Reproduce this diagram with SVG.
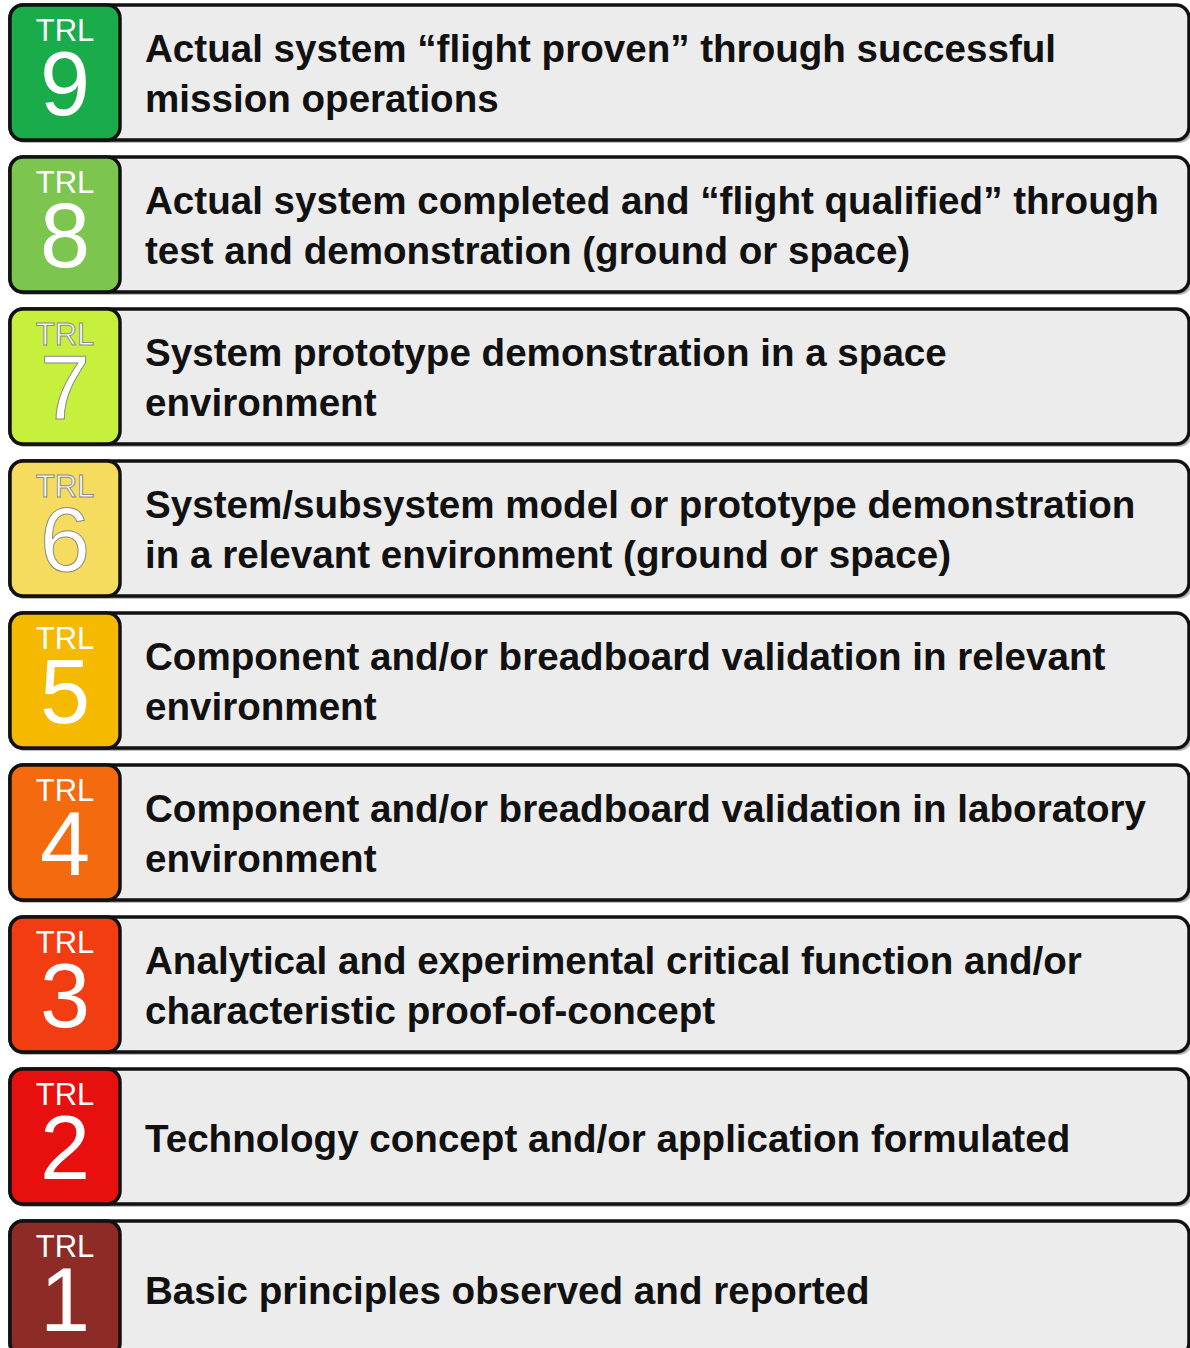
<svg xmlns="http://www.w3.org/2000/svg" width="1190" height="1348" viewBox="0 0 1190 1348">
<style>
.box{fill:#ececec;stroke:#111;stroke-width:3.5}
.shadow{fill:#bbb}
.badge{stroke:#111;stroke-width:3.5}
.lbl{font-family:"Liberation Sans",Arial,sans-serif;fill:#fff;text-anchor:middle}
.trl{font-size:31px}
.num{font-size:90px}
.lt{stroke:#8a8a8a;stroke-width:1}
.desc{font-family:"Liberation Sans",Arial,sans-serif;font-size:38.6px;font-weight:bold;fill:#111}
</style>
<rect width="1190" height="1348" fill="#fff"/>
<g id="trl9">
<rect class="shadow" x="12" y="8" width="1180" height="135" rx="13"/>
<rect class="box" x="10" y="5" width="1179" height="135" rx="13"/>
<rect class="badge" x="10" y="5" width="110" height="135" rx="13" fill="#1aab4b"/>
<text class="lbl"><tspan class="trl" x="65" y="41">TRL</tspan><tspan class="num" x="65" y="115">9</tspan></text>
<text class="desc" x="145" y="62">Actual system “flight proven” through successful</text>
<text class="desc" x="145" y="112">mission operations</text>
</g>
<g id="trl8">
<rect class="shadow" x="12" y="160" width="1180" height="135" rx="13"/>
<rect class="box" x="10" y="157" width="1179" height="135" rx="13"/>
<rect class="badge" x="10" y="157" width="110" height="135" rx="13" fill="#7cc54f"/>
<text class="lbl"><tspan class="trl" x="65" y="193">TRL</tspan><tspan class="num" x="65" y="267">8</tspan></text>
<text class="desc" x="145" y="214">Actual system completed and “flight qualified” through</text>
<text class="desc" x="145" y="264">test and demonstration (ground or space)</text>
</g>
<g id="trl7">
<rect class="shadow" x="12" y="312" width="1180" height="135" rx="13"/>
<rect class="box" x="10" y="309" width="1179" height="135" rx="13"/>
<rect class="badge" x="10" y="309" width="110" height="135" rx="13" fill="#c6f03c"/>
<text class="lbl lt"><tspan class="trl" x="65" y="345">TRL</tspan><tspan class="num" x="65" y="419">7</tspan></text>
<text class="desc" x="145" y="366">System prototype demonstration in a space</text>
<text class="desc" x="145" y="416">environment</text>
</g>
<g id="trl6">
<rect class="shadow" x="12" y="464" width="1180" height="135" rx="13"/>
<rect class="box" x="10" y="461" width="1179" height="135" rx="13"/>
<rect class="badge" x="10" y="461" width="110" height="135" rx="13" fill="#f5dc5e"/>
<text class="lbl lt"><tspan class="trl" x="65" y="497">TRL</tspan><tspan class="num" x="65" y="571">6</tspan></text>
<text class="desc" x="145" y="518">System/subsystem model or prototype demonstration</text>
<text class="desc" x="145" y="568">in a relevant environment (ground or space)</text>
</g>
<g id="trl5">
<rect class="shadow" x="12" y="616" width="1180" height="135" rx="13"/>
<rect class="box" x="10" y="613" width="1179" height="135" rx="13"/>
<rect class="badge" x="10" y="613" width="110" height="135" rx="13" fill="#f5b900"/>
<text class="lbl"><tspan class="trl" x="65" y="649">TRL</tspan><tspan class="num" x="65" y="723">5</tspan></text>
<text class="desc" x="145" y="670">Component and/or breadboard validation in relevant</text>
<text class="desc" x="145" y="720">environment</text>
</g>
<g id="trl4">
<rect class="shadow" x="12" y="768" width="1180" height="135" rx="13"/>
<rect class="box" x="10" y="765" width="1179" height="135" rx="13"/>
<rect class="badge" x="10" y="765" width="110" height="135" rx="13" fill="#f46a0e"/>
<text class="lbl"><tspan class="trl" x="65" y="801">TRL</tspan><tspan class="num" x="65" y="875">4</tspan></text>
<text class="desc" x="145" y="822">Component and/or breadboard validation in laboratory</text>
<text class="desc" x="145" y="872">environment</text>
</g>
<g id="trl3">
<rect class="shadow" x="12" y="920" width="1180" height="135" rx="13"/>
<rect class="box" x="10" y="917" width="1179" height="135" rx="13"/>
<rect class="badge" x="10" y="917" width="110" height="135" rx="13" fill="#f23d12"/>
<text class="lbl"><tspan class="trl" x="65" y="953">TRL</tspan><tspan class="num" x="65" y="1027">3</tspan></text>
<text class="desc" x="145" y="974">Analytical and experimental critical function and/or</text>
<text class="desc" x="145" y="1024">characteristic proof-of-concept</text>
</g>
<g id="trl2">
<rect class="shadow" x="12" y="1072" width="1180" height="135" rx="13"/>
<rect class="box" x="10" y="1069" width="1179" height="135" rx="13"/>
<rect class="badge" x="10" y="1069" width="110" height="135" rx="13" fill="#e80f0f"/>
<text class="lbl"><tspan class="trl" x="65" y="1105">TRL</tspan><tspan class="num" x="65" y="1179">2</tspan></text>
<text class="desc" x="145" y="1152">Technology concept and/or application formulated</text>
</g>
<g id="trl1">
<rect class="shadow" x="12" y="1224" width="1180" height="135" rx="13"/>
<rect class="box" x="10" y="1221" width="1179" height="135" rx="13"/>
<rect class="badge" x="10" y="1221" width="110" height="135" rx="13" fill="#8d2b26"/>
<text class="lbl"><tspan class="trl" x="65" y="1257">TRL</tspan><tspan class="num" x="65" y="1331">1</tspan></text>
<text class="desc" x="145" y="1304">Basic principles observed and reported</text>
</g>
<g id="connectors"/>
</svg>
